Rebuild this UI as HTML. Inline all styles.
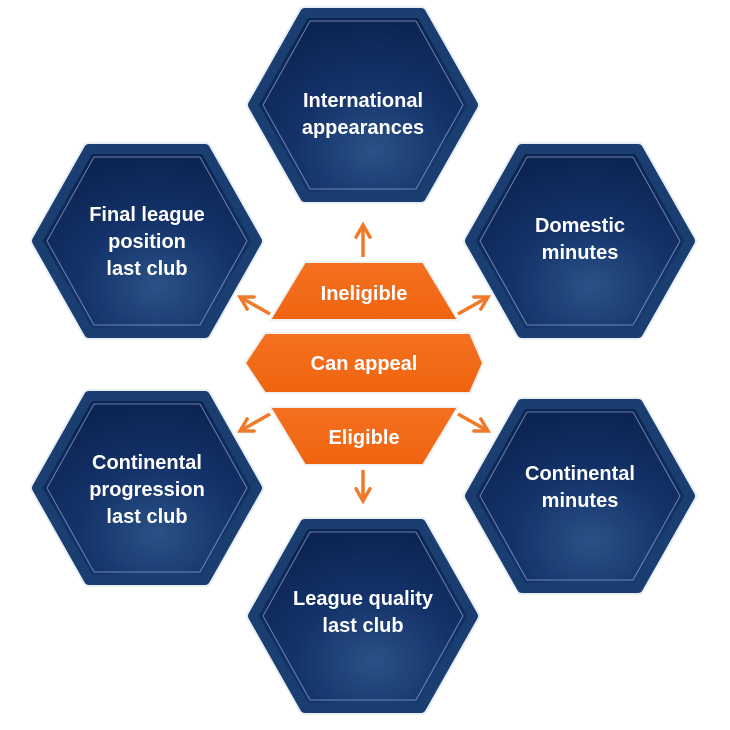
<!DOCTYPE html>
<html><head><meta charset="utf-8"><style>
body{margin:0;background:#fff;}
svg{display:block;}
text{font-family:"Liberation Sans",sans-serif;font-weight:bold;fill:#fff;text-anchor:middle;}
</style></head><body>
<svg width="730" height="730" viewBox="0 0 730 730" xmlns="http://www.w3.org/2000/svg">
<defs>
<radialGradient id="g" cx="0.55" cy="0.75" r="0.7">
<stop offset="0" stop-color="#2a5286"/>
<stop offset="0.5" stop-color="#14336a"/>
<stop offset="1" stop-color="#0c2452"/>
</radialGradient>
<linearGradient id="o" x1="0" y1="0" x2="0" y2="1">
<stop offset="0" stop-color="#f47020"/><stop offset="1" stop-color="#f06410"/>
</linearGradient>
<marker id="ah" viewBox="0 0 10 10" refX="8" refY="5" markerWidth="5" markerHeight="5" orient="auto">
<path d="M1 1 L8 5 L1 9" fill="none" stroke="#f07a2a" stroke-width="2" stroke-linecap="round"/>
</marker>
<g id="hex">
<polygon points="-110,0 -58,-92 58,-92 110,0 58,92 -58,92" fill="url(#g)" stroke="#e8eef6" stroke-width="14" stroke-linejoin="round"/>
<polygon points="-110,0 -58,-92 58,-92 110,0 58,92 -58,92" fill="url(#g)" stroke="#1b3e70" stroke-width="10" stroke-linejoin="round"/>
<polygon points="-100,0 -53,-84 53,-84 100,0 53,84 -53,84" fill="none" stroke="#8fa8cc" stroke-width="1" stroke-linejoin="round" opacity="0.7"/>
</g>
</defs>
<use href="#hex" x="363" y="105"/>
<use href="#hex" x="147" y="241"/>
<use href="#hex" x="580" y="241"/>
<use href="#hex" x="147" y="488"/>
<use href="#hex" x="580" y="496"/>
<use href="#hex" x="363" y="616"/>

<g font-size="20">
<text x="363" y="107">International</text><text x="363" y="134">appearances</text>
<text x="147" y="221">Final league</text><text x="147" y="248">position</text><text x="147" y="275">last club</text>
<text x="580" y="232">Domestic</text><text x="580" y="259">minutes</text>
<text x="147" y="469">Continental</text><text x="147" y="496">progression</text><text x="147" y="523">last club</text>
<text x="580" y="480">Continental</text><text x="580" y="507">minutes</text>
<text x="363" y="605">League quality</text><text x="363" y="632">last club</text>
</g>

<g fill="url(#o)" stroke="#f0f0f0" stroke-width="2" stroke-linejoin="round">
<polygon points="305,262 423,262 458,320 270,320"/>
<polygon points="245,363 265,333 470,333 483,363 470,393 265,393"/>
<polygon points="270,407 458,407 423,465 305,465"/>
</g>
<g font-size="20">
<text x="364" y="300">Ineligible</text>
<text x="364" y="370">Can appeal</text>
<text x="364" y="444">Eligible</text>
</g>

<g stroke="#f07a2a" stroke-width="3.5" fill="none" marker-end="url(#ah)">
<line x1="363" y1="257" x2="363" y2="225"/>
<line x1="363" y1="470" x2="363" y2="501"/>
<line x1="270" y1="314" x2="240" y2="297"/>
<line x1="458" y1="314" x2="488" y2="297"/>
<line x1="270" y1="414" x2="240" y2="431"/>
<line x1="458" y1="414" x2="488" y2="431"/>
</g>
</svg>
</body></html>
